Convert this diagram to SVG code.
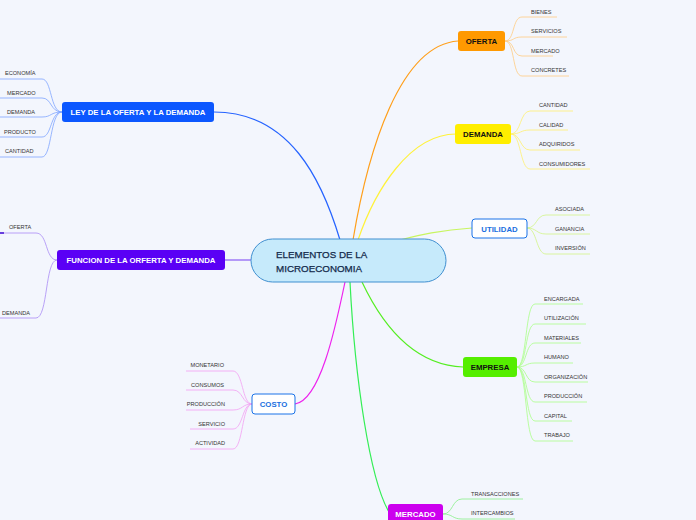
<svg xmlns="http://www.w3.org/2000/svg" width="696" height="520" viewBox="0 0 696 520">
<style>
.bg{fill:#f3f6fd}
.nt{font-family:"Liberation Sans",Arial,sans-serif;font-size:7.8px;font-weight:bold;text-anchor:middle}
.ct{font-family:"Liberation Sans",Arial,sans-serif;font-size:5.6px;fill:#333}
.cn{font-family:"Liberation Sans",Arial,sans-serif;font-size:9.8px;fill:#12294a;stroke:#12294a;stroke-width:0.25}
.m{fill:none;stroke-width:1.2}
.c{fill:none;stroke-width:0.8}
</style>
<rect class="bg" width="696" height="520"/>
<g id="connectors">
<path class="m" stroke="#2563ff" d="M214 112 C290 112 322 180 340 240"/>
<path class="m" stroke="#8a5cf6" d="M225 260 L251 260"/>
<path class="m" stroke="#ff9f1a" d="M458 41 C400 45 368 150 353 240"/>
<path class="m" stroke="#fff23a" d="M456 134 C410 134 375 190 358 240"/>
<path class="m" stroke="#c8f560" d="M472 228 C440 230 420 235 400 240"/>
<path class="m" stroke="#55ee22" d="M463 367 C410 365 380 320 362 282"/>
<path class="m" stroke="#33ee55" d="M389 512 C370 480 355 380 350 282"/>
<path class="m" stroke="#ee22ee" d="M295 404 C320 400 335 330 345 282"/>
<g stroke="#7fa4ff">
<path class="c" d="M62 112 C50 112 52 79 42 79 L0 79"/>
<path class="c" d="M62 112 C50 112 52 98 42 98 L0 98"/>
<path class="c" d="M62 112 C50 112 52 117 42 117 L0 117"/>
<path class="c" d="M62 112 C50 112 52 137 42 137 L0 137"/>
<path class="c" d="M62 112 C50 112 52 157 42 157 L0 157"/>
</g>
<g stroke="#a98bf5">
<path class="c" d="M57 260 C45 260 48 233 36 233 L0 233"/>
<path class="c" d="M57 260 C45 260 48 318 36 318 L0 318"/>
</g>
<path stroke="#4b1bd6" stroke-width="1.6" d="M0 233 L4 233"/>
<g stroke="#ffcc80">
<path class="c" d="M505 41 C515 41 512 17 522 17 L557 17"/>
<path class="c" d="M505 41 C515 41 512 37 522 37 L567 37"/>
<path class="c" d="M505 41 C515 41 512 56 522 56 L553 56"/>
<path class="c" d="M505 41 C515 41 512 76 522 76 L569 76"/>
</g>
<g stroke="#fff070">
<path class="c" d="M511 134 C521 134 520 111 530 111 L573 111"/>
<path class="c" d="M511 134 C521 134 520 130 530 130 L568 130"/>
<path class="c" d="M511 134 C521 134 520 150 530 150 L580 150"/>
<path class="c" d="M511 134 C521 134 520 169 530 169 L590 169"/>
</g>
<g stroke="#d2f587">
<path class="c" d="M527 228 C537 228 536 215 546 215 L590 215"/>
<path class="c" d="M527 228 C537 228 536 234 546 234 L590 234"/>
<path class="c" d="M527 228 C537 228 536 254 546 254 L590 254"/>
</g>
<g stroke="#aaff88">
<path class="c" d="M517 367 C527 367 525 304 535 304 L583 304"/>
<path class="c" d="M517 367 C527 367 525 324 535 324 L586 324"/>
<path class="c" d="M517 367 C527 367 525 343 535 343 L581 343"/>
<path class="c" d="M517 367 C527 367 525 363 535 363 L573 363"/>
<path class="c" d="M517 367 C527 367 525 382 535 382 L588 382"/>
<path class="c" d="M517 367 C527 367 525 402 535 402 L587 402"/>
<path class="c" d="M517 367 C527 367 525 421 535 421 L572 421"/>
<path class="c" d="M517 367 C527 367 525 441 535 441 L573 441"/>
</g>
<g stroke="#88f088">
<path class="c" d="M443 514 C453 514 452 499 462 499 L523 499"/>
<path class="c" d="M443 514 C453 514 452 519 462 519 L515 519"/>
</g>
<g stroke="#f2a0f2">
<path class="c" d="M252 404 C242 404 243 371 233 371 L186 371"/>
<path class="c" d="M252 404 C242 404 243 390 233 390 L186 390"/>
<path class="c" d="M252 404 C242 404 243 410 233 410 L186 410"/>
<path class="c" d="M252 404 C242 404 243 429 233 429 L190 429"/>
<path class="c" d="M252 404 C242 404 243 449 233 449 L190 449"/>
</g>
</g>
<g id="center">
<rect x="251" y="239" width="195" height="43" rx="21.5" fill="#c6eafb" stroke="#3f8fd0" stroke-width="1"/>
<text class="cn" x="276" y="258">ELEMENTOS DE LA</text>
<text class="cn" x="276" y="272">MICROECONOMIA</text>
</g>
<g id="ley">
<rect x="62" y="102" width="152" height="20" rx="3" fill="#0b57ff"/>
<text class="nt" x="138" y="115" fill="#fff">LEY DE LA OFERTA Y LA DEMANDA</text>
<text class="ct" x="5" y="75">ECONOMÍA</text>
<text class="ct" x="7" y="95">MERCADO</text>
<text class="ct" x="7" y="114">DEMANDA</text>
<text class="ct" x="4" y="134">PRODUCTO</text>
<text class="ct" x="5" y="153">CANTIDAD</text>
</g>
<g id="funcion">
<rect x="57" y="250" width="168" height="20" rx="3" fill="#5a00f5"/>
<text class="nt" x="141" y="263" fill="#fff">FUNCION DE LA ORFERTA Y DEMANDA</text>
<text class="ct" x="9" y="229">OFERTA</text>
<text class="ct" x="2" y="315">DEMANDA</text>
</g>
<g id="oferta">
<rect x="458" y="31" width="47" height="20" rx="3" fill="#ff9900"/>
<text class="nt" x="481.5" y="44" fill="#111">OFERTA</text>
<text class="ct" x="531" y="14">BIENES</text>
<text class="ct" x="531" y="33">SERVICIOS</text>
<text class="ct" x="531" y="53">MERCADO</text>
<text class="ct" x="531" y="72">CONCRETES</text>
</g>
<g id="demanda">
<rect x="455" y="124" width="56" height="20" rx="3" fill="#ffee00"/>
<text class="nt" x="483" y="137" fill="#111">DEMANDA</text>
<text class="ct" x="539" y="107">CANTIDAD</text>
<text class="ct" x="539" y="127">CALIDAD</text>
<text class="ct" x="539" y="146">ADQUIRIDOS</text>
<text class="ct" x="539" y="166">CONSUMIDORES</text>
</g>
<g id="utilidad">
<rect x="472" y="219" width="55" height="19" rx="3" fill="#fff" stroke="#1a73e8" stroke-width="1"/>
<text class="nt" x="499.5" y="231.5" fill="#1a6fe0">UTILIDAD</text>
<text class="ct" x="555" y="211">ASOCIADA</text>
<text class="ct" x="555" y="231">GANANCIA</text>
<text class="ct" x="555" y="250">INVERSIÓN</text>
</g>
<g id="empresa">
<rect x="463" y="357" width="54" height="20" rx="3" fill="#55ee00"/>
<text class="nt" x="490" y="370" fill="#111">EMPRESA</text>
<text class="ct" x="544" y="301">ENCARGADA</text>
<text class="ct" x="544" y="320">UTILIZACIÓN</text>
<text class="ct" x="544" y="340">MATERIALES</text>
<text class="ct" x="544" y="359">HUMANO</text>
<text class="ct" x="544" y="379">ORGANIZACIÓN</text>
<text class="ct" x="544" y="398">PRODUCCIÓN</text>
<text class="ct" x="544" y="418">CAPITAL</text>
<text class="ct" x="544" y="437">TRABAJO</text>
</g>
<g id="mercado">
<rect x="388" y="504" width="55" height="22" rx="3" fill="#cc00ee"/>
<text class="nt" x="415.5" y="516.5" fill="#fff">MERCADO</text>
<text class="ct" x="471" y="496">TRANSACCIONES</text>
<text class="ct" x="471" y="515">INTERCAMBIOS</text>
</g>
<g id="costo">
<rect x="252" y="394" width="43" height="20" rx="3" fill="#fff" stroke="#1a73e8" stroke-width="1"/>
<text class="nt" x="273.5" y="407" fill="#1a6fe0">COSTO</text>
<text class="ct" x="224" y="367" text-anchor="end">MONETARIO</text>
<text class="ct" x="224" y="387" text-anchor="end">CONSUMOS</text>
<text class="ct" x="225" y="406" text-anchor="end">PRODUCCIÓN</text>
<text class="ct" x="225" y="426" text-anchor="end">SERVICIO</text>
<text class="ct" x="225" y="445" text-anchor="end">ACTIVIDAD</text>
</g>
</svg>
